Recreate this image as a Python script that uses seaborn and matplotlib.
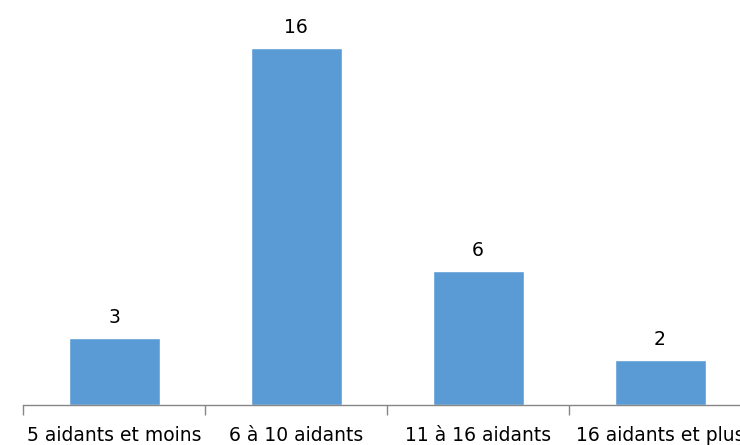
import pandas as pd
import matplotlib.pyplot as plt
import seaborn as sns

# Number of helpers per group
categories = ["5 aidants et moins", "6 à 10 aidants", "11 à 16 aidants", "16 aidants et plus"]
counts = [3, 16, 6, 2]

df = pd.DataFrame({"Groupe": categories, "Nombre": counts})

sns.set_style("white")
plt.rcParams['font.family'] = ['DejaVu Sans']

fig = plt.figure(figsize=(7.4, 4.45), dpi=100)
# axes runs a little past the right edge, as in the original
ax = fig.add_axes([23 / 740, 40 / 445, 728 / 740, 401.6 / 445])

sns.barplot(data=df, x="Groupe", y="Nombre", color="#5B9BD5", width=0.5,
            saturation=1, ax=ax)
ax.set_ylim(0, 18)
ax.set_xlim(-0.5, len(categories) - 0.5)

for c in ax.containers:
    ax.bar_label(c, fontsize=13.5, padding=8, color="#000000")

# tick marks sit between categories, labels under bars
ax.set_xticks([i - 0.5 for i in range(len(categories) + 1)], minor=True)
ax.tick_params(axis="x", which="minor", bottom=True, length=7, width=1,
               color="#868686", direction="out")
ax.tick_params(axis="x", which="major", bottom=True, length=0, pad=15,
               labelsize=13.5, labelcolor="#000000")
ax.set_yticks([])
ax.set_xlabel("")
ax.set_ylabel("")

for side in ["top", "right", "left"]:
    ax.spines[side].set_visible(False)
ax.spines["bottom"].set_color("#868686")
ax.spines["bottom"].set_linewidth(1)

fig.savefig("out.png", dpi=100)
